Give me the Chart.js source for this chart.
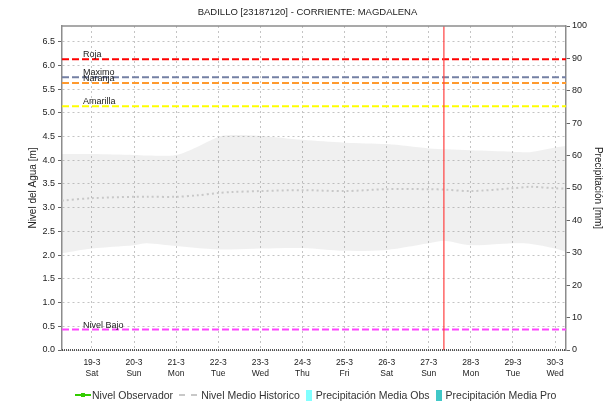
<!DOCTYPE html>
<html>
<head>
<meta charset="utf-8">
<style>
  body { margin: 0; background: #fff; }
  #contenedor { position: relative; width: 615px; height: 405px; }
  #leyenda { position: absolute; left: 75px; top: 389px; display: flex; align-items: center;
             font: 10.5px "Liberation Sans", Arial, sans-serif; color: #333; white-space: nowrap; }
  #leyenda .item { display: flex; align-items: center; margin-right: 6px; }
  #leyenda .marca { position: relative; }
</style>
</head>
<body>
<div id="contenedor">
  <canvas id="nivelChart" width="615" height="405"></canvas>
  <div id="leyenda"></div>
</div>

<script src="https://cdn.jsdelivr.net/npm/chart.js"></script>

<script>
// Días del eje X (0 = 19-3)
const fechas = ['19-3', '20-3', '21-3', '22-3', '23-3', '24-3', '25-3', '26-3', '27-3', '28-3', '29-3', '30-3'];
const diasSemana = ['Sat', 'Sun', 'Mon', 'Tue', 'Wed', 'Thu', 'Fri', 'Sat', 'Sun', 'Mon', 'Tue', 'Wed'];
const inicioEje = -0.71;
const finEje = 11.26;

// Franja histórica (mín / máx) y nivel medio histórico
const franjaDias = [-0.71, 0, 1, 1.3, 2, 2.5, 3, 3.3, 4, 5, 6, 7, 8, 8.4, 9, 10, 10.4, 11, 11.26];
const franjaMax = [4.13, 4.13, 4.11, 4.10, 4.11, 4.28, 4.49, 4.53, 4.51, 4.43, 4.37, 4.34, 4.25, 4.23, 4.21, 4.18, 4.17, 4.27, 4.30];
const franjaMin = [2.04, 2.14, 2.21, 2.25, 2.19, 2.15, 2.12, 2.12, 2.14, 2.15, 2.09, 2.11, 2.25, 2.30, 2.21, 2.25, 2.24, 2.14, 2.07];
const medioHistorico = [3.15, 3.20, 3.23, 3.23, 3.23, 3.26, 3.31, 3.33, 3.35, 3.37, 3.35, 3.39, 3.39, 3.38, 3.35, 3.41, 3.44, 3.41, 3.40];

// Sin datos observados ni de precipitación en el periodo
const nivelObservado = [];
const precipObs = [];
const precipPro = [];

// Umbrales de alerta [m]
const umbralNombres = ['Roja', 'Maximo', 'Naranja', 'Amarilla', 'Nivel Bajo'];
const umbralValores = [6.13, 5.75, 5.63, 5.14, 0.43];
const umbralColores = ['#ff0000', '#7480a4', '#ff9a2e', '#ffff00', '#ff44ff'];

// Momento actual (27-3 por la mañana)
const fechaActual = 8.36;

const ticksNivel = [0, 0.5, 1, 1.5, 2, 2.5, 3, 3.5, 4, 4.5, 5, 5.5, 6, 6.5];
const maxNivel = 6.83;

const fuente = '"Liberation Sans", Arial, sans-serif';
const colorGrid = '#c4c4c4';
const colorEje = '#8c8c8c';

function serie(xs, ys) {
  return xs.map((x, i) => ({ x: x, y: ys[i] }));
}

const datasets = [];

// línea de fecha actual
datasets.push({
  data: [{ x: fechaActual, y: 0 }, { x: fechaActual, y: maxNivel }],
  borderColor: '#ff4040', borderWidth: 1.2, pointRadius: 0, order: 0, yAxisID: 'y'
});

umbralNombres.forEach((nombre, i) => {
  datasets.push({
    etiqueta: nombre,
    data: [{ x: inicioEje, y: umbralValores[i] }, { x: finEje, y: umbralValores[i] }],
    borderColor: umbralColores[i], borderWidth: 2, borderDash: [7, 3],
    pointRadius: 0, order: 1, yAxisID: 'y'
  });
});

datasets.push({
  label: 'Nivel Observador', enLeyenda: true, marca: 'linea',
  data: nivelObservado, borderColor: '#33cc00', backgroundColor: '#33cc00',
  borderWidth: 1.5, pointRadius: 2, order: 1, yAxisID: 'y'
});

datasets.push({
  label: 'Nivel Medio Historico', enLeyenda: true, marca: 'punteada',
  data: serie(franjaDias, medioHistorico), borderColor: '#c8c8c8',
  borderWidth: 2, borderDash: [2, 3], pointRadius: 0, tension: 0.3, order: 2, yAxisID: 'y'
});

datasets.push({
  data: serie(franjaDias, franjaMin), borderWidth: 0, pointRadius: 0,
  tension: 0.3, order: 3, yAxisID: 'y'
});
datasets.push({
  data: serie(franjaDias, franjaMax), borderWidth: 0, pointRadius: 0,
  tension: 0.3, fill: '-1', backgroundColor: 'rgba(128,128,128,0.12)', order: 3, yAxisID: 'y'
});

datasets.push({
  type: 'bar', label: 'Precipitación Media Obs', enLeyenda: true, marca: 'caja',
  data: precipObs, backgroundColor: '#80ffff', yAxisID: 'y1', order: 4
});
datasets.push({
  type: 'bar', label: 'Precipitación Media Pro', enLeyenda: true, marca: 'caja',
  data: precipPro, backgroundColor: '#40c8c8', yAxisID: 'y1', order: 4
});

// etiquetas de umbrales y marco superior/inferior
const extras = {
  id: 'extras',
  afterDatasetsDraw(chart) {
    const { ctx, chartArea: a, scales } = chart;
    ctx.save();
    ctx.font = '9px ' + fuente;
    ctx.fillStyle = '#222';
    ctx.textBaseline = 'alphabetic';
    chart.data.datasets.forEach(ds => {
      if (!ds.etiqueta) return;
      const x = scales.x.getPixelForValue(-0.21);
      const y = scales.y.getPixelForValue(ds.data[0].y);
      ctx.fillText(ds.etiqueta, x, y - 2);
    });
    ctx.strokeStyle = colorEje;
    ctx.lineWidth = 1.5;
    ctx.beginPath();
    ctx.moveTo(a.left, a.top);
    ctx.lineTo(a.right, a.top);
    ctx.stroke();
    ctx.strokeStyle = '#222';
    ctx.setLineDash([1, 1]);
    ctx.beginPath();
    ctx.moveTo(a.left, a.bottom);
    ctx.lineTo(a.right, a.bottom);
    ctx.stroke();
    ctx.restore();
  }
};

const chart = new Chart(document.getElementById('nivelChart').getContext('2d'), {
  type: 'line',
  data: { datasets: datasets },
  plugins: [extras],
  options: {
    responsive: false,
    animation: false,
    layout: { padding: { left: 0, right: 0, top: 0, bottom: 25 } },
    plugins: {
      legend: { display: false },
      tooltip: { enabled: false },
      title: {
        display: true,
        text: 'BADILLO [23187120] - CORRIENTE: MAGDALENA',
        color: '#222',
        font: { family: fuente, size: 9.5, weight: 'normal' },
        padding: { top: 7, bottom: 7.6 }
      }
    },
    scales: {
      x: {
        type: 'linear',
        offset: false,
        min: inicioEje,
        max: finEje,
        afterBuildTicks: scale => { scale.ticks = fechas.map((f, i) => ({ value: i })); },
        afterFit: scale => { scale.height = 30; },
        ticks: {
          autoSkip: false, maxRotation: 0, padding: 7, color: '#222',
          font: { family: fuente, size: 8.5, lineHeight: 1.3 },
          callback: v => [fechas[v], diasSemana[v]]
        },
        grid: { color: colorGrid, drawTicks: false, offset: false },
        border: { display: false, dash: [2, 3] }
      },
      y: {
        position: 'left',
        min: 0,
        max: maxNivel,
        afterBuildTicks: scale => { scale.ticks = ticksNivel.map(v => ({ value: v })); },
        afterFit: scale => { scale.width = 62; },
        ticks: {
          padding: 3, color: '#222',
          font: { family: fuente, size: 9 },
          callback: v => v.toFixed(1)
        },
        grid: { color: colorGrid, tickLength: 4, tickColor: '#666', tickBorderDash: [] },
        border: { color: colorEje, width: 1.5, dash: [2, 3] },
        title: {
          display: true, text: 'Nivel del Agua [m]', color: '#222',
          font: { family: fuente, size: 10 }, padding: { top: 27, bottom: 0 }
        }
      },
      y1: {
        position: 'right',
        min: 0,
        max: 100,
        afterFit: scale => { scale.width = 49; },
        ticks: {
          stepSize: 10, padding: 2, color: '#222',
          font: { family: fuente, size: 9 }
        },
        grid: { drawOnChartArea: false, tickLength: 4, tickColor: '#666' },
        border: { color: colorEje, width: 1.5 },
        title: {
          display: true, text: 'Precipitación [mm]', color: '#222',
          font: { family: fuente, size: 10 }, padding: { top: 11, bottom: 0 }
        }
      }
    }
  }
});

// leyenda inferior a partir de las series
const leyenda = document.getElementById('leyenda');
chart.data.datasets.filter(ds => ds.enLeyenda).forEach(ds => {
  const item = document.createElement('span');
  item.className = 'item';
  const marca = document.createElement('span');
  marca.className = 'marca';
  if (ds.marca === 'linea') {
    marca.style.cssText = 'width:16px;height:1.5px;margin-right:1px;background:' + ds.borderColor;
    const punto = document.createElement('span');
    punto.style.cssText = 'position:absolute;left:6px;top:-1.5px;width:4px;height:4px;background:' + ds.borderColor;
    marca.appendChild(punto);
  } else if (ds.marca === 'punteada') {
    marca.style.cssText = 'width:18px;height:0;margin-right:4px;border-top:2px dashed ' + ds.borderColor;
  } else {
    marca.style.cssText = 'width:6px;height:11px;margin-right:4px;background:' + ds.backgroundColor;
  }
  item.appendChild(marca);
  item.appendChild(document.createTextNode(ds.label));
  leyenda.appendChild(item);
});
</script>
</body>
</html>
